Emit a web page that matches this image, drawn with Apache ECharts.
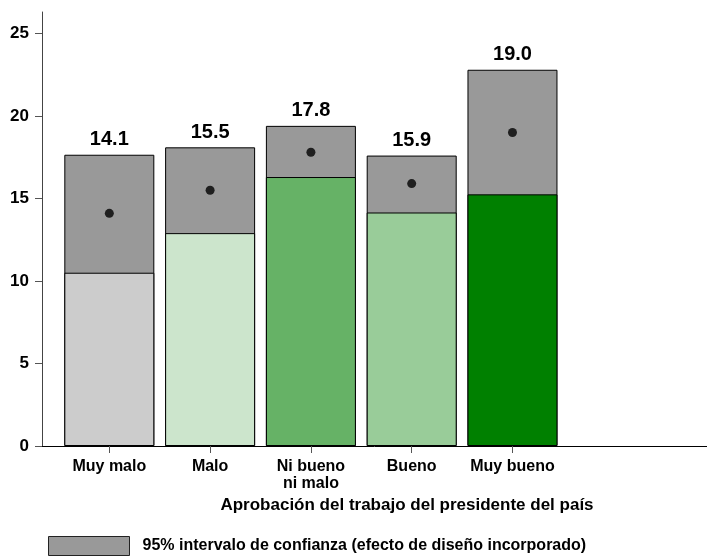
<!DOCTYPE html>
<html>
<head>
<meta charset="utf-8">
<script src="https://cdn.jsdelivr.net/npm/echarts@6/dist/echarts.min.js"></script>
<style>
  html, body { margin: 0; padding: 0; background: #fff; }
  #chart_ci { width: 707px; height: 556px; }
</style>
</head>
<body>
<div id="chart_ci"></div>
<script>
// categorias y valores
const categories = ['Muy malo', 'Malo', 'Ni bueno\nni malo', 'Bueno', 'Muy bueno']
const means = [14.1, 15.5, 17.8, 15.9, 19.0]
const ciLow = [10.5, 12.9, 16.3, 14.15, 15.25]
const ciHigh = [17.65, 18.1, 19.4, 17.6, 22.8]
const barColors = ['#cccccc', '#cce5cc', '#66b266', '#99cc99', '#008000']
const yTicks = [0, 5, 10, 15, 20, 25]
const xPositions = [1, 2, 3, 4, 5]
const ciName = '95% intervalo de confianza (efecto de diseño incorporado)'

const font = 'Liberation Sans, Arial, sans-serif'
const chart = echarts.init(document.getElementById('chart_ci'))

chart.setOption({
  animation: false,
  textStyle: { fontFamily: font },
  grid: { left: 42, right: 0, top: 12, bottom: 110 },
  legend: {
    data: [ciName],
    left: 48,
    top: 536,
    padding: 0,
    itemWidth: 81,
    itemHeight: 19,
    icon: 'rect',
    itemStyle: { borderColor: '#222', borderWidth: 1 },
    textStyle: {
      fontFamily: font,
      fontSize: 16,
      fontWeight: 'bold',
      color: '#000',
      padding: [0, 0, 0, 8]
    }
  },
  graphic: [
    {
      type: 'text',
      x: 407,
      y: 505,
      style: {
        text: 'Aprobación del trabajo del presidente del país',
        font: 'bold 17px ' + font,
        fill: '#000',
        textAlign: 'center',
        textVerticalAlign: 'middle'
      }
    }
  ],
  xAxis: {
    type: 'value',
    min: 0.332,
    max: 6.93,
    splitLine: { show: false },
    axisLine: { show: true, lineStyle: { color: '#000', width: 1 } },
    axisTick: {
      show: true,
      length: 7,
      customValues: xPositions,
      lineStyle: { color: '#555' }
    },
    axisLabel: {
      customValues: xPositions,
      margin: 12,
      fontSize: 16,
      fontWeight: 'bold',
      color: '#000',
      lineHeight: 17,
      formatter: function (v) {
        return categories[Math.round(v) - 1]
      }
    }
  },
  yAxis: {
    type: 'value',
    min: 0,
    max: 26.3,
    splitLine: { show: false },
    axisLine: { show: true, lineStyle: { color: '#444', width: 1 } },
    axisTick: {
      show: true,
      length: 7,
      customValues: yTicks,
      lineStyle: { color: '#555' }
    },
    axisLabel: {
      customValues: yTicks,
      margin: 13,
      fontSize: 17,
      fontWeight: 'bold',
      color: '#000'
    }
  },
  series: [
    {
      name: ciName,
      type: 'bar',
      barWidth: 90,
      itemStyle: { color: '#999999', borderColor: '#000', borderWidth: 1 },
      label: {
        show: true,
        position: 'top',
        distance: 5,
        fontSize: 20,
        fontWeight: 'bold',
        color: '#000',
        formatter: function (p) {
          return means[p.dataIndex].toFixed(1)
        }
      },
      data: xPositions.map((x, i) => [x, ciHigh[i]])
    },
    {
      name: 'inferior',
      type: 'bar',
      barWidth: 90,
      barGap: '-100%',
      data: xPositions.map((x, i) => ({
        value: [x, ciLow[i]],
        itemStyle: { color: barColors[i], borderColor: '#000', borderWidth: 1 }
      }))
    },
    {
      name: 'media',
      type: 'scatter',
      symbol: 'circle',
      symbolSize: 9,
      itemStyle: { color: '#000' },
      z: 5,
      data: xPositions.map((x, i) => [x, means[i]])
    }
  ]
})
</script>
</body>
</html>
